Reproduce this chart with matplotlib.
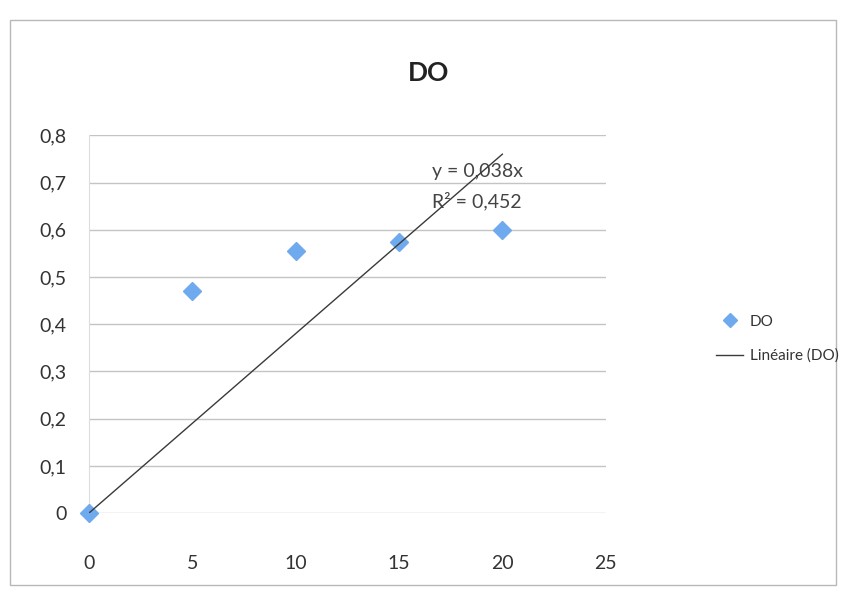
import numpy as np
import matplotlib
matplotlib.use("Agg")
import matplotlib.pyplot as plt
from matplotlib.patches import Rectangle

plt.rcParams['font.family'] = ['Lato', 'DejaVu Sans']

# mesures DO
temps = [0, 5, 10, 15, 20]
do_vals = [0.0, 0.47, 0.555, 0.575, 0.60]

# courbe de tendance linéaire (origine forcée)
pente = 0.038
r2 = 0.452
trend_x = [0, 20]

x_ticks = [0, 5, 10, 15, 20, 25]
y_ticks = [0, 0.1, 0.2, 0.3, 0.4, 0.5, 0.6, 0.7, 0.8]

fig = plt.figure(figsize=(8.46, 5.96), dpi=100)
ax = fig.add_axes([0.105, 0.139, 0.611, 0.634])

# cadre du graphique
fig.patches.append(Rectangle((0.012, 0.018), 0.976, 0.948, transform=fig.transFigure,
                             fill=False, edgecolor='#b8b8b8', linewidth=1.0))

ax.set_xlim(0, 25)
ax.set_ylim(0, 0.8)
ax.set_xticks(x_ticks)
ax.set_yticks(y_ticks)
ax.set_xticklabels([str(t) for t in x_ticks])
ax.set_yticklabels(["0" if v == 0 else f"{v:.1f}".replace(".", ",") for v in y_ticks])
ax.tick_params(length=0, labelsize=14, colors='#333333')
ax.tick_params(axis='x', pad=30)
ax.tick_params(axis='y', pad=16)

ax.grid(axis='y', color='#c4c4c4', linewidth=1.0)
ax.set_axisbelow(True)
for side in ['top', 'right', 'bottom']:
    ax.spines[side].set_visible(False)
ax.spines['left'].set_color('#dddddd')

ax.plot(temps, do_vals, linestyle='none', marker='D', markersize=9.5,
        color='#6fa9ee', label='DO', zorder=3, clip_on=False)
trend_y = [pente * t for t in trend_x]
ax.plot(trend_x, trend_y, color='#3a3a3a', linewidth=1.0, label='Linéaire (DO)', zorder=4)

ax.text(16.6, 0.706, f"y = {pente:.3f}x".replace(".", ","), fontsize=14,
        color='#444444', ha='left', va='bottom')
ax.text(16.6, 0.640, f"R² = {r2:.3f}".replace(".", ","), fontsize=14,
        color='#444444', ha='left', va='bottom')

fig.text(0.506, 0.878, "DO", fontsize=19, fontweight='bold', color='#222222',
         ha='center', va='center')

leg = fig.legend(loc='upper left', bbox_to_anchor=(0.83, 0.495), frameon=False,
                 fontsize=11, handlelength=1.8, labelspacing=1.3, handletextpad=0.4)
for t in leg.get_texts():
    t.set_color('#333333')
leg.legend_handles[0].set_markersize(7)

fig.savefig("out.png", dpi=100, facecolor='white')
